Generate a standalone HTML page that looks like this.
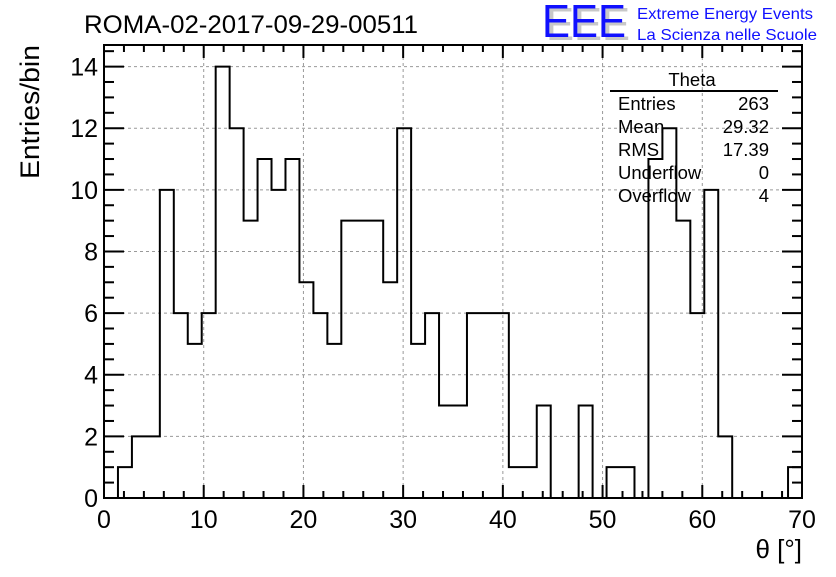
<!DOCTYPE html>
<html><head><meta charset="utf-8"><style>
body{margin:0;background:#fff}
svg text{font-family:"Liberation Sans",Arial,sans-serif}
</style></head><body>
<svg width="836" height="572" viewBox="0 0 836 572" xmlns="http://www.w3.org/2000/svg">
<rect width="836" height="572" fill="#fff"/>
<text x="84" y="33" font-size="25" textLength="334" lengthAdjust="spacingAndGlyphs">ROMA-02-2017-09-29-00511</text>
<g>
<text x="546" y="40" font-size="46" fill="#c8c8c8" textLength="84" lengthAdjust="spacingAndGlyphs">EEE</text>
<text x="542" y="37" font-size="46" fill="#1010ff" textLength="84" lengthAdjust="spacingAndGlyphs">EEE</text>
<text x="637" y="19" font-size="16" fill="#1010ff" textLength="176" lengthAdjust="spacingAndGlyphs">Extreme Energy Events</text>
<text x="637" y="40" font-size="16" fill="#1010ff" textLength="180" lengthAdjust="spacingAndGlyphs">La Scienza nelle Scuole</text>
</g>
<g id="grid"></g>
<g id="ticks"></g>
<g id="labels"></g>
<path id="hist" fill="none" stroke="#000" stroke-width="2"/>
<rect x="104" y="45" width="698" height="453" fill="none" stroke="#000" stroke-width="2"/>
<text transform="translate(39,179) rotate(-90)" font-size="27" textLength="134" lengthAdjust="spacingAndGlyphs">Entries/bin</text>
<text x="802" y="558" font-size="26" text-anchor="end">θ [°]</text>
<g>
<text x="692" y="86" font-size="18.5" text-anchor="middle">Theta</text>
<line x1="610" y1="91" x2="778" y2="91" stroke="#000" stroke-width="2"/>
<g font-size="18.5">
<text x="618" y="110">Entries</text><text x="769" y="110" text-anchor="end">263</text>
<text x="618" y="133">Mean</text><text x="769" y="133" text-anchor="end">29.32</text>
<text x="618" y="156">RMS</text><text x="769" y="156" text-anchor="end">17.39</text>
<text x="618" y="179">Underflow</text><text x="769" y="179" text-anchor="end">0</text>
<text x="618" y="202">Overflow</text><text x="769" y="202" text-anchor="end">4</text>
</g></g>
</svg>
<script>
const binCounts=[0,1,2,2,10,6,5,6,14,12,9,11,10,11,7,6,5,9,9,9,7,12,5,6,3,3,6,6,6,1,1,3,0,0,3,0,1,1,0,11,12,9,6,10,2,0,0,0,0,1];
const xTickLabels=[0,10,20,30,40,50,60,70];
const yTickLabels=[0,2,4,6,8,10,12,14];
const xMin=0,xMax=70,yMin=0,yMax=14.7;
const L=104,R=802,T=45,B=498;
const NS="http://www.w3.org/2000/svg";
function sx(v){return L+(v-xMin)/(xMax-xMin)*(R-L);}
function sy(v){return B-(v-yMin)/(yMax-yMin)*(B-T);}
function mk(tag,attrs,parent){const e=document.createElementNS(NS,tag);for(const k in attrs)e.setAttribute(k,attrs[k]);parent.appendChild(e);return e;}
const grid=document.getElementById('grid'),ticks=document.getElementById('ticks'),labels=document.getElementById('labels');
xTickLabels.forEach(v=>{
  const x=sx(v);
  if(v>xMin&&v<xMax){const g=mk('line',{x1:x,x2:x,y1:T,y2:B,stroke:'#999','stroke-dasharray':'3,3'},grid);
  
  }
  const t=mk('text',{x:x,y:528,'font-size':25,'text-anchor':'middle'},labels);t.textContent=v;
  
  
});
yTickLabels.forEach(v=>{
  const y=sy(v);
  if(v>yMin){const g=mk('line',{x1:L,x2:R,y1:y,y2:y,stroke:'#999','stroke-dasharray':'3,3'},grid);
  
  }
  const t=mk('text',{x:98,y:y+9,'font-size':25,'text-anchor':'end'},labels);t.textContent=v;
  
  
});
for(let v=xMin;v<=xMax;v+=2){const x=sx(v);const len=(v%10===0)?13:7;
  mk('line',{x1:x,x2:x,y1:B,y2:B-len,stroke:'#000','stroke-width':2},ticks);
  mk('line',{x1:x,x2:x,y1:T,y2:T+len,stroke:'#000','stroke-width':2},ticks);}
for(let v=yMin;v<=yMax;v+=0.5){const y=sy(v);const len=(v%2===0)?20:10;
  mk('line',{x1:L,x2:L+len,y1:y,y2:y,stroke:'#000','stroke-width':2},ticks);
  mk('line',{x1:R,x2:R-len,y1:y,y2:y,stroke:'#000','stroke-width':2},ticks);}
const w=(xMax-xMin)/binCounts.length;
let d='M'+sx(xMin)+','+sy(0);
binCounts.forEach((c,i)=>{d+=' L'+sx(xMin+i*w)+','+sy(c)+' L'+sx(xMin+(i+1)*w)+','+sy(c);});
d+=' L'+sx(xMax)+','+sy(0);
document.getElementById('hist').setAttribute('d',d);
</script>
</body></html>
